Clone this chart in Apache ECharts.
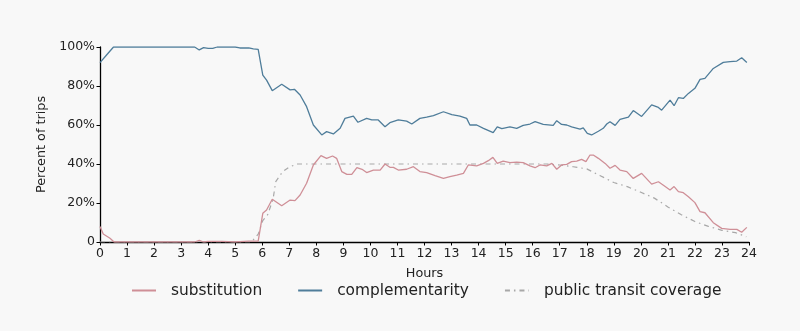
<!DOCTYPE html>
<html>
<head>
<meta charset="utf-8">
<script src="https://cdn.jsdelivr.net/npm/echarts@6/dist/echarts.min.js"></script>
<style>
html,body{margin:0;padding:0;background:#f8f8f8;}
#chart{width:800px;height:331px;}
</style>
</head>
<body>
<div id="chart"></div>
<script>
// Hours (x) and percent values
const seriesNames = ['substitution', 'complementarity', 'public transit coverage'];
const xTicks = [0,1,2,3,4,5,6,7,8,9,10,11,12,13,14,15,16,17,18,19,20,21,22,23,24];
const yTicks = [0,20,40,60,80,100];

const compHours = [0,0.25,0.5,1,1.5,2,2.5,3,3.5,3.67,3.83,4,4.17,4.33,4.67,5,5.17,5.5,5.67,5.85,6.02,6.16,6.37,6.72,7.03,7.19,7.4,7.64,7.89,8.2,8.38,8.63,8.88,9.06,9.37,9.54,9.86,10.05,10.29,10.54,10.72,11.03,11.34,11.53,11.83,12.08,12.33,12.7,13.01,13.31,13.56,13.68,13.93,14.18,14.54,14.69,14.86,15.16,15.41,15.65,15.9,16.09,16.39,16.76,16.89,17.07,17.26,17.44,17.75,17.87,18.02,18.18,18.43,18.61,18.74,18.86,19.05,19.23,19.54,19.72,20.03,20.4,20.65,20.77,21.08,21.23,21.39,21.57,21.76,22,22.19,22.37,22.68,23.05,23.3,23.55,23.73,23.92];
const compValues = [92,96,100,100,100,100,100,100,100,98.5,99.7,99.3,99.3,100,100,100,99.5,99.5,99,98.8,85.6,83,77.6,80.9,78,78.3,75.4,69.4,60,54.9,56.6,55.4,58.3,63.4,64.6,61.4,63.4,62.6,62.6,59.1,61.2,62.6,62,60.5,63.4,64,64.8,66.8,65.3,64.6,63.4,60,60,58.3,56.1,59,58.1,59,58.3,59.8,60.5,61.7,60.3,59.8,62.2,60.3,60,59,57.9,58.5,55.7,54.9,56.8,58.3,60.5,61.7,59.8,62.9,64,67.4,64.4,70.3,69,67.6,72.8,69.9,74,73.6,76.2,78.8,83.4,83.9,89,92.1,92.5,92.8,94.5,92.1];

const subHours = [0,0.12,0.37,0.52,1,1.5,2,2.5,3,3.5,3.67,3.83,4,4.5,5,5.5,5.85,6.02,6.16,6.37,6.72,7.03,7.21,7.4,7.64,7.89,8.17,8.38,8.6,8.75,8.94,9.13,9.31,9.5,9.69,9.86,10.11,10.36,10.54,10.72,10.85,11.03,11.34,11.59,11.83,12.08,12.39,12.7,12.94,13.19,13.44,13.62,13.93,14.18,14.36,14.53,14.69,14.91,15.16,15.41,15.65,15.9,16.09,16.27,16.52,16.71,16.89,17.07,17.26,17.44,17.63,17.81,17.97,18.12,18.24,18.43,18.68,18.86,19.05,19.23,19.48,19.72,20.03,20.4,20.65,20.77,21.08,21.23,21.39,21.57,21.76,22,22.19,22.37,22.68,22.99,23.3,23.55,23.73,23.92];
const subValues = [8,4.1,1.9,0,0,0,0,0,0,0,0.8,0,0.3,0.3,0,0.5,0.5,14.7,16.4,21.9,18.6,21.5,21.2,24.1,30.1,39.5,44.3,42.9,44.1,42.9,36.1,34.7,34.7,38.1,37.3,35.6,36.9,36.9,40,38.3,38.3,36.9,37.3,38.6,36.1,35.6,34,32.6,33.5,34.3,35.2,39.5,39,40.3,41.7,43.4,40.3,41.5,40.7,41,40.7,39,38.1,39.5,39,40.3,37.3,39.5,39.8,41.2,41.5,42.4,41.2,44.6,44.6,42.9,40.3,37.8,39.3,36.9,36.1,32.6,35.2,29.7,30.9,29.7,26.7,28.4,25.8,25.3,23.2,20.2,15.6,15,9.9,7,6.5,6.5,5,7.5];

const ptHours = [0,1,2,3,4,5,5.6,5.85,6.02,6.2,6.4,6.5,6.75,7,7.3,7.5,8,9,10,11,12,13,14,15,16,16.5,17,17.5,18,18.5,19,19.5,20,20.5,21,21.5,22,22.5,23,23.5,23.9];
const ptValues = [0,0,0,0,0,0,0,4,11,14,22,31,36,38.5,40,40,40,40,40,40,40,40,40,40,40,40,39.5,38.6,37.5,34,30.5,28.4,25.5,22.5,18,14,10.5,8,6,4.8,2.7];

const colors = ['#cf8f97', '#4f7d9a', '#a8a8a8'];

function pairs(xs, ys){ return xs.map((x,i)=>[x, ys[i]]); }

const chart = echarts.init(document.getElementById('chart'));
const font = 'DejaVu Sans';
chart.setOption({
  backgroundColor: '#f8f8f8',
  animation: false,
  textStyle: {fontFamily: font},
  grid: {left: 100, right: 51, top: 47, bottom: 89, containLabel: false},
  legend: {
    left: 131, top: 283, width: 660, padding: 0,
    itemWidth: 24, itemHeight: 14, itemGap: 35,
    itemStyle: {opacity: 0},
    textStyle: {fontSize: 15.4, fontFamily: font, color: '#222', padding: [0,0,0,10]},
    data: seriesNames
  },
  xAxis: {
    type: 'value', min: xTicks[0], max: xTicks[xTicks.length-1], interval: 1,
    name: 'Hours', nameLocation: 'middle', nameGap: 25,
    nameTextStyle: {fontSize: 12.8, color: '#222', fontFamily: font},
    axisLine: {lineStyle: {color: '#000', width: 1.3}},
    axisTick: {show: true, length: 3.5, lineStyle: {color: '#000'}},
    axisLabel: {fontSize: 12.5, color: '#222', margin: 5, fontFamily: font},
    splitLine: {show: false}
  },
  yAxis: {
    type: 'value', min: yTicks[0], max: yTicks[yTicks.length-1], interval: 20,
    name: 'Percent of trips', nameLocation: 'middle', nameGap: 43, nameRotate: 90,
    nameTextStyle: {fontSize: 12.8, color: '#222', fontFamily: font},
    axisLine: {show: true, lineStyle: {color: '#000', width: 1.3}},
    axisTick: {show: true, length: 3.5, lineStyle: {color: '#000'}},
    axisLabel: {fontSize: 12.5, color: '#222', margin: 5, fontFamily: font,
      formatter: v => v === 0 ? '0' : v + '%'},
    splitLine: {show: false}
  },
  series: [
    {name: seriesNames[0], type: 'line', data: pairs(subHours, subValues), showSymbol: false, symbol: 'none',
     lineStyle: {color: colors[0], width: 1.3}, itemStyle: {color: colors[0]}, z: 3},
    {name: seriesNames[1], type: 'line', data: pairs(compHours, compValues), showSymbol: false, symbol: 'none',
     lineStyle: {color: colors[1], width: 1.3}, itemStyle: {color: colors[1]}, z: 3},
    {name: seriesNames[2], type: 'line', data: pairs(ptHours, ptValues), showSymbol: false, symbol: 'none',
     lineStyle: {color: colors[2], width: 1.2, type: [5,4,1.5,4]}, itemStyle: {color: colors[2]}, z: 2}
  ]
});
</script>
</body>
</html>
